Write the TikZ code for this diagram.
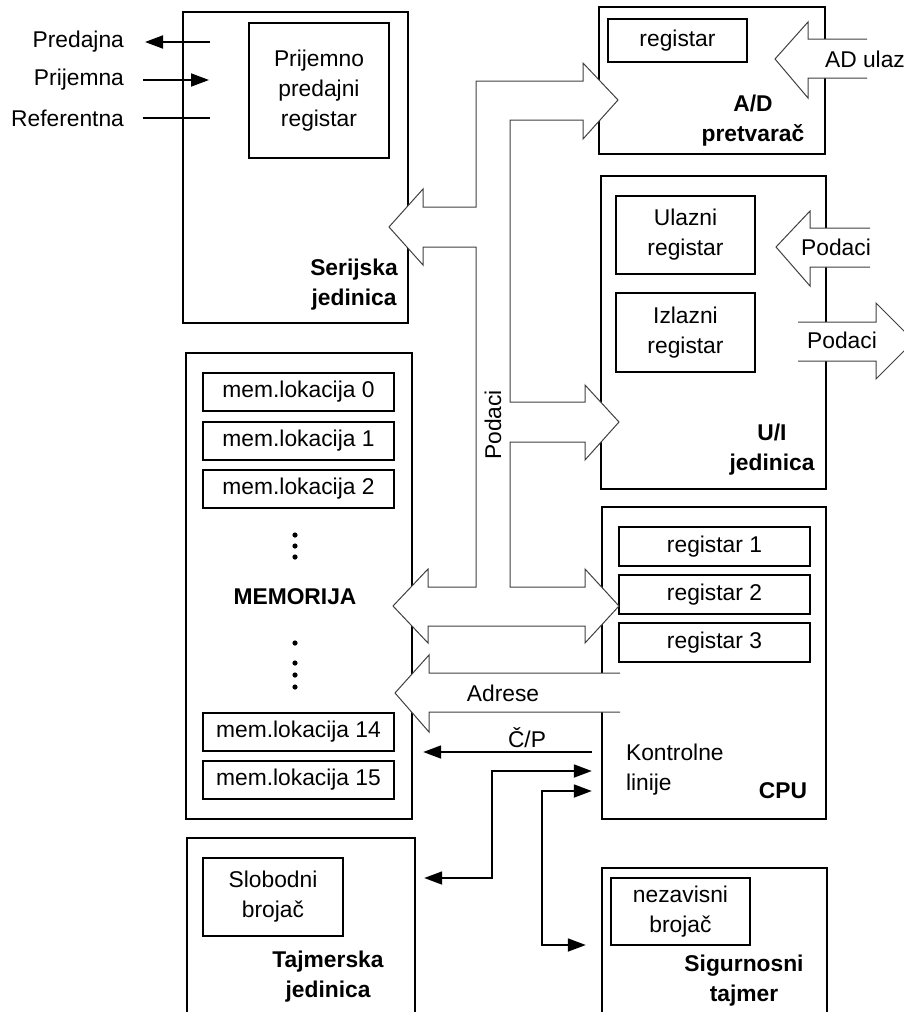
\documentclass[tikz,border=0pt]{standalone}
\usepackage{fontspec}
\setmainfont{Liberation Sans}
\usetikzlibrary{arrows.meta,fit,calc}
\tikzset{
    blok/.style={draw, line width=1.2pt, inner sep=0pt},
    reg/.style={draw, line width=0.9pt, inner sep=0pt},
    txt/.style={align=center},
    naziv/.style={font=\fontsize{11.4}{15}\selectfont\bfseries, align=center},
    bus/.style={draw=black!75, line width=0.5pt, fill=white},
    ctrl/.style={line width=0.9pt, >={Triangle[length=9pt,width=6.5pt]}}
}

\begin{document}
\begin{tikzpicture}[x=0.5pt, y=-0.5pt, every node/.style={font=\fontsize{11.4}{15}\selectfont}]
    \useasboundingbox (0,0) rectangle (904,1012);
    %%Blocks
    \node[blok, fit={(183,12) (408,323)}] (ser) {};
    \node[blok, fit={(599,7) (825,154)}] (adc) {};
    \node[blok, fit={(601,176) (826,489)}] (io) {};
    \node[blok, fit={(602,507) (826,819)}] (cpu) {};
    \node[blok, fit={(186,353) (412,819)}] (mem) {};
    \node[blok, fit={(187,838) (415,1016)}] (tmr) {};
    \node[blok, fit={(602,868) (827,1016)}] (wdt) {};
    %%Registers
    \node[reg, fit={(249,23) (389,158)}, label={[txt]center:Prijemno\\predajni\\registar}] (serreg) {};
    \node[reg, fit={(608,19) (747,62)}, label={[txt]center:registar}] (adcreg) {};
    \node[reg, fit={(616,196) (755,274)}, label={[txt]center:Ulazni\\registar}] (ioin) {};
    \node[reg, fit={(616,293) (755,372)}, label={[txt]center:Izlazni\\registar}] (ioout) {};
    \foreach \i/\y in {1/527, 2/575, 3/623}
        \node[reg, fit={(619,\y) (810,\y+39)}, label={center:registar \i}] (reg\i) {};
    \foreach \i/\y in {0/373, 1/422, 2/470, 14/713, 15/761}
        \node[reg, fit={(203,\y) (394,\y+38)}, label={center:mem.lokacija \i}] (loc\i) {};
    \node[reg, fit={(203,858) (343,936)}, label={[txt]center:Slobodni\\brojač}] (tmrcnt) {};
    \node[reg, fit={(611,878) (750,945)}, label={[txt]center:nezavisni\\brojač}] (wdtcnt) {};
    %%Names
    \node[naziv] (serl) at (354,285) {Serijska\\jedinica};
    \node[naziv] (adcl) at (753,121) {A/D\\pretvarač};
    \node[naziv] (iol) at (772,450) {U/I\\jedinica};
    \node[naziv] (cpul) at (783,791) {CPU};
    \node[naziv] (meml) at (295,597) {MEMORIJA};
    \node[naziv] (tmrl) at (328,977) {Tajmerska\\jedinica};
    \node[naziv] (wdtl) at (744,981) {Sigurnosni\\tajmer};
    \node[align=left, anchor=west] (kon) at (619,770) {Kontrolne\\linije};
    \foreach \y in {535,546,557,643,663,675,687}
        \fill (295,\y) circle[radius=1.3pt];
    %%Data bus
    \draw[bus] (476,81) -- (583,81) -- (583,63) -- (618,100) -- (583,139) -- (583,120)
        -- (510,120) -- (510,402) -- (585,402) -- (585,385) -- (619,422) -- (585,460) -- (585,442)
        -- (510,442) -- (510,587) -- (585,587) -- (585,569) -- (619,606) -- (585,643) -- (585,626)
        -- (428,626) -- (428,643) -- (393,606) -- (428,569) -- (428,587)
        -- (476,587) -- (476,247) -- (423,247) -- (423,265) -- (389,227) -- (423,189) -- (423,207)
        -- (476,207) -- cycle;
    \node[rotate=90] (dbus) at (493,425) {Podaci};
    %%Address bus
    \draw[bus] (620,673) -- (429,673) -- (429,655) -- (395,693) -- (429,732) -- (429,712) -- (620,712);
    \node (abus) at (503,693) {Adrese};
    %%Outside
    \draw[bus] (867,39) -- (808,39) -- (808,22) -- (775,59) -- (808,98) -- (808,78) -- (867,78);
    \node[anchor=west] (adin) at (818,59) {AD ulaz};
    \draw[bus] (870,228) -- (810,228) -- (810,211) -- (776,247) -- (810,286) -- (810,267) -- (870,267);
    \node (ioinl) at (836,247) {Podaci};
    \draw[bus] (798,322) -- (876,322) -- (876,303) -- (914,341) -- (876,379) -- (876,361) -- (798,361);
    \node (iooutl) at (842,340) {Podaci};
    %%Serial lines
    \node[anchor=east] (txl) at (131,42) {Predajna};
    \node[anchor=east] (rxl) at (131,80) {Prijemna};
    \node[anchor=east] (refl) at (131,118) {Referentna};
    \coordinate (tx) at (210,42);
    \coordinate (rx) at (209,80);
    \coordinate (ref) at (210,118);
    \draw[ctrl,->, shorten >=7pt] (tx) -- (txl);
    \draw[ctrl,->, shorten <=6pt] (rxl) -- (rx);
    \draw[ctrl, shorten <=6pt] (refl) -- (ref);
    %%Control lines
    \coordinate (cp) at (0,752);
    \coordinate (k1) at (0,771);
    \coordinate (k2) at (0,791);
    \coordinate (j1) at (492,878);
    \coordinate (j2) at (542,945);
    \draw[ctrl,->, shorten <=4.5pt, shorten >=5pt] (cpu.west |- cp) -- (mem.east |- cp);
    \node (cpl) at (527,738) {Č/P};
    \draw[ctrl,<->, shorten <=4.5pt, shorten >=4pt] (cpu.west |- k1) -| (j1) -- (tmr.east |- j1);
    \draw[ctrl,<->, shorten <=4.5pt, shorten >=7.5pt] (cpu.west |- k2) -| (j2) -- (wdt.west |- j2);
\end{tikzpicture}
\end{document}
